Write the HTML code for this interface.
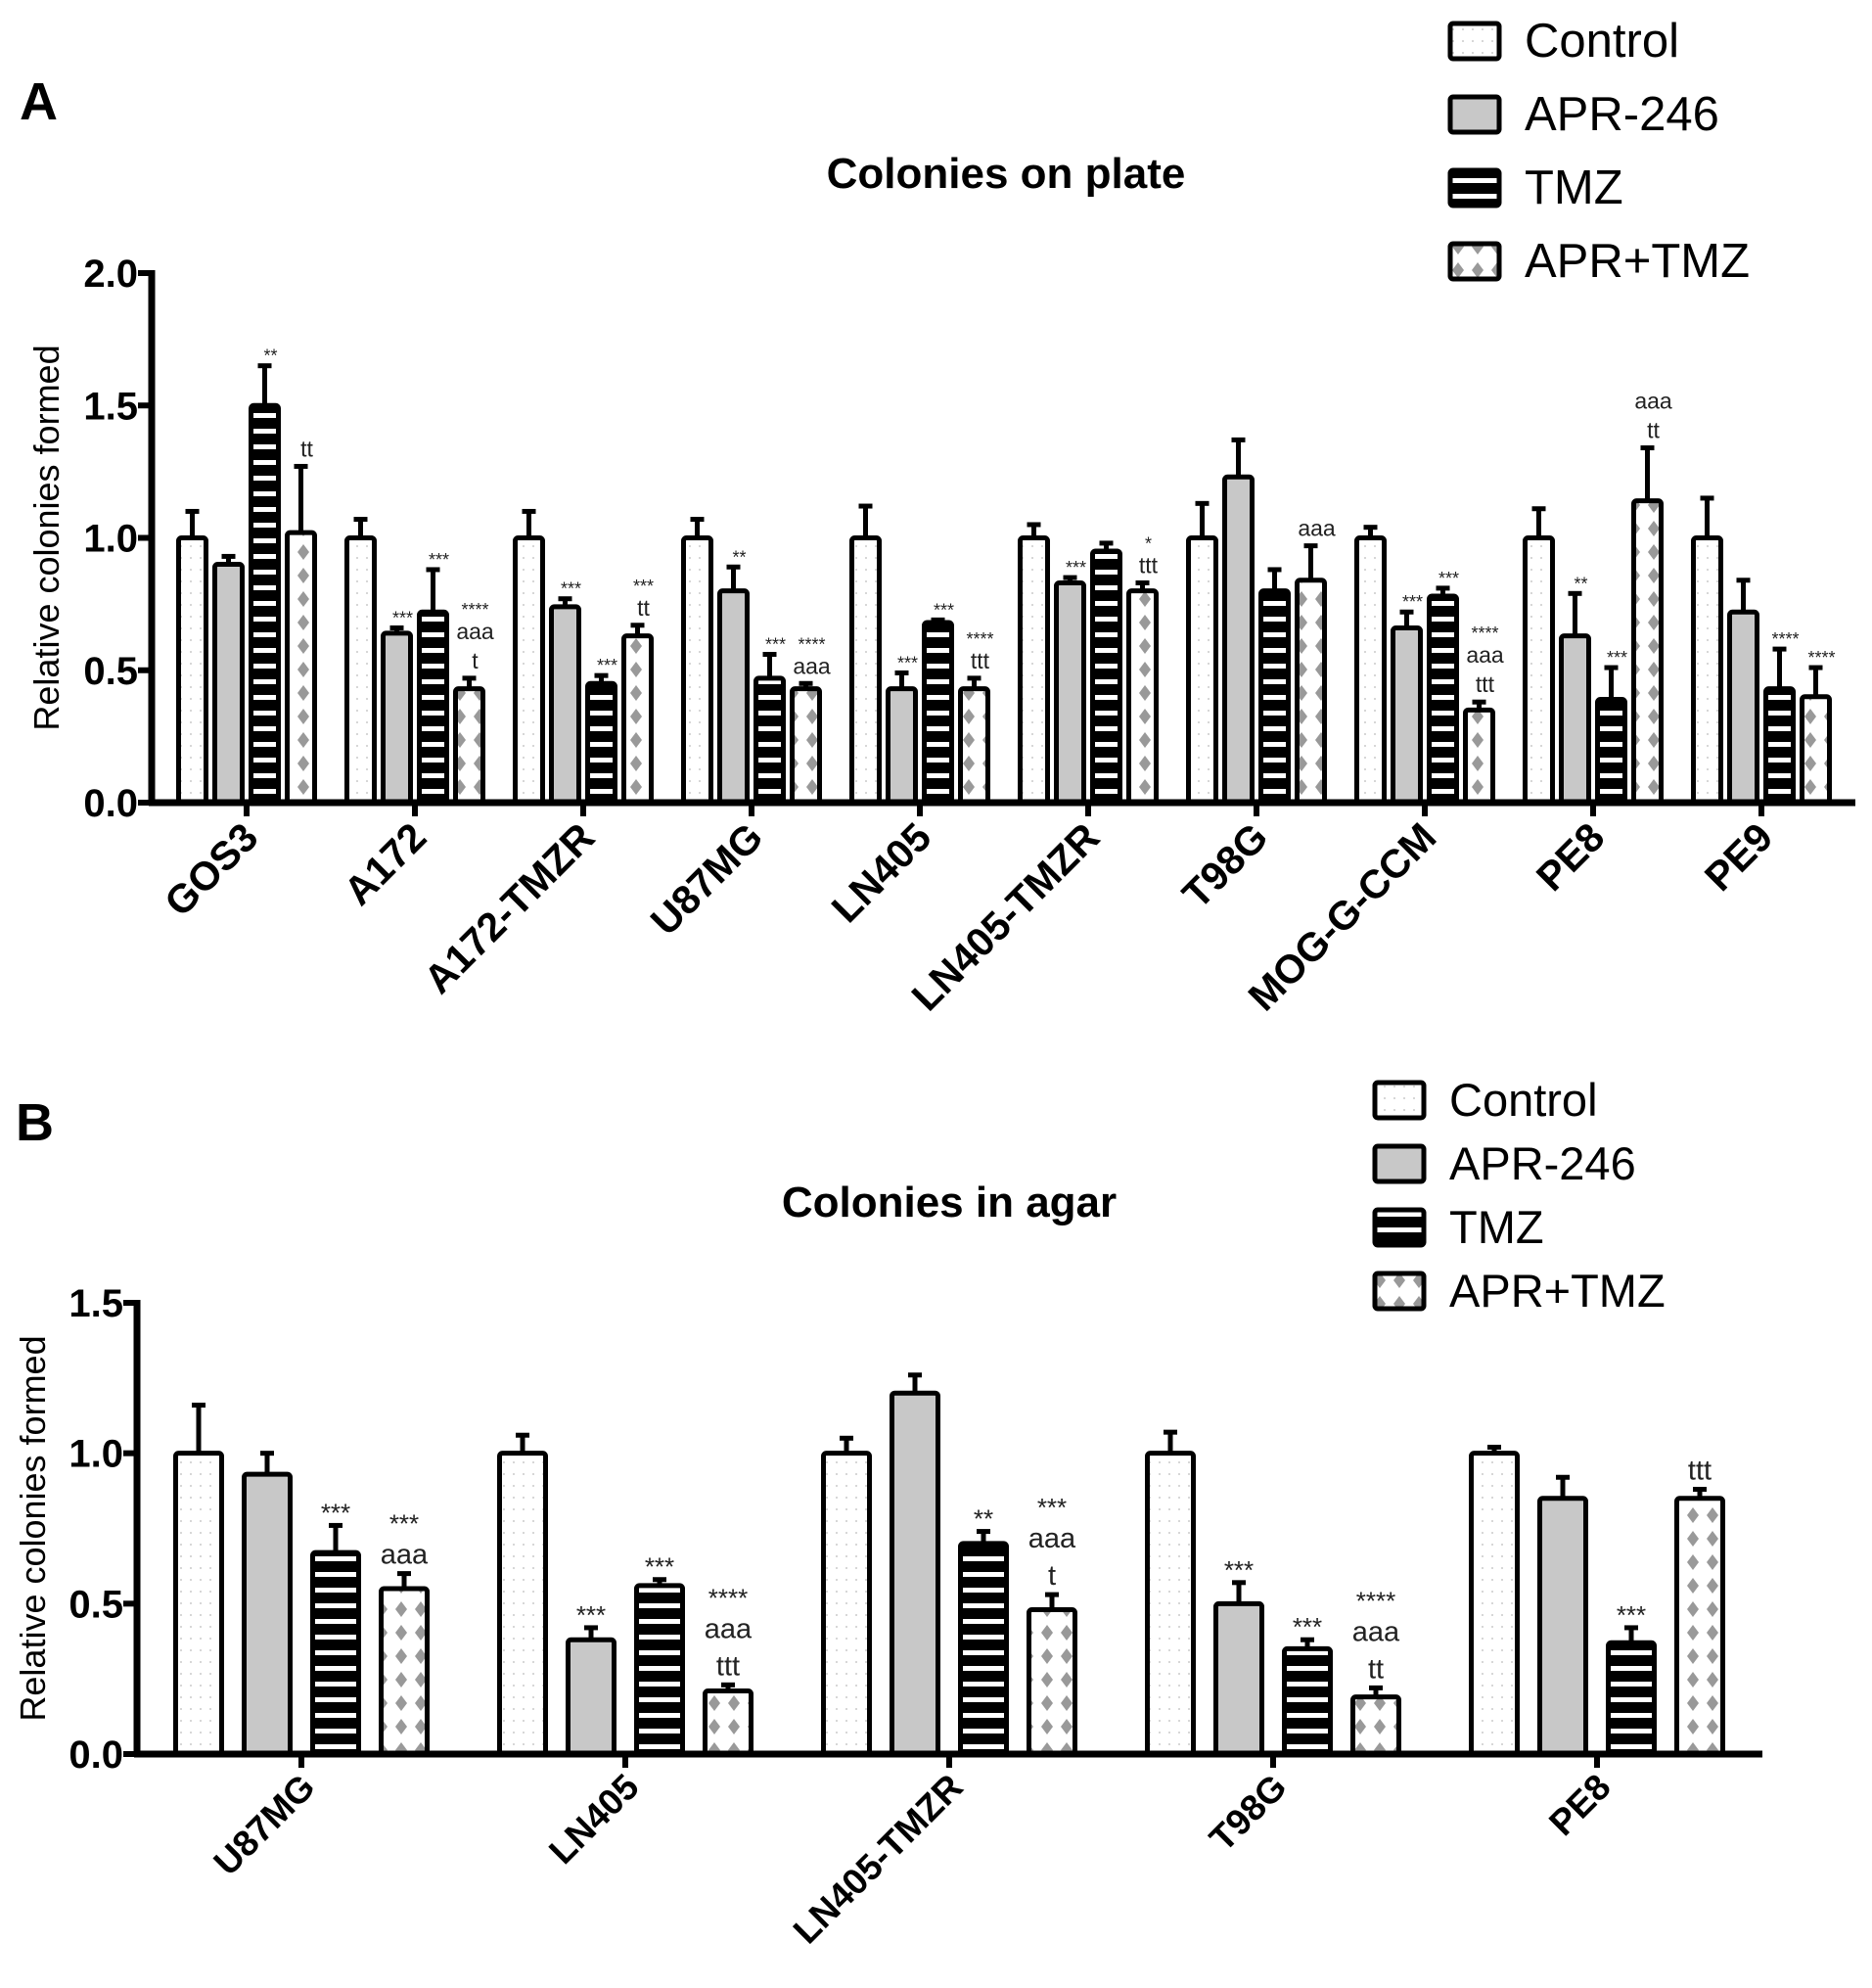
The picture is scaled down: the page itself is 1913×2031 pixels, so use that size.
<!DOCTYPE html>
<html><head><meta charset="utf-8"><style>
html,body{margin:0;padding:0;background:#fff;}
svg{display:block;font-family:"Liberation Sans",Arial,sans-serif;}
</style></head><body>
<svg id="fig" width="1913" height="2031" viewBox="0 0 1913 2031" xmlns="http://www.w3.org/2000/svg">
<defs>
<pattern id="pCtrl" width="10" height="12" patternUnits="userSpaceOnUse"><rect width="10" height="12" fill="#fff"/><circle cx="5" cy="6" r="0.9" fill="#bbb"/></pattern>
<pattern id="pTmz" width="10" height="16" patternUnits="userSpaceOnUse"><rect width="10" height="16" fill="#000"/><rect x="0" y="6" width="10" height="5" fill="#fff"/></pattern>
<pattern id="pCombo" width="20" height="24" patternUnits="userSpaceOnUse"><rect width="20" height="24" fill="#fff"/><polygon points="10,4 16,12 10,20 4,12" fill="#999"/></pattern>
</defs>
<g id="panelA"></g>
<g id="panelB"></g>
</svg>
<script>
const seriesNames = ["Control","APR-246","TMZ","APR+TMZ"];
const fills = ["url(#pCtrl)","#c8c8c8","url(#pTmz)","url(#pCombo)"];

const catsA = ["GOS3","A172","A172-TMZR","U87MG","LN405","LN405-TMZR","T98G","MOG-G-CCM","PE8","PE9"];
const ctrlA = [1,1,1,1,1,1,1,1,1,1];
const ctrlErrA = [0.1,0.07,0.1,0.07,0.12,0.05,0.13,0.04,0.11,0.15];
const aprA = [0.9,0.64,0.74,0.8,0.43,0.83,1.23,0.66,0.63,0.72];
const aprErrA = [0.03,0.02,0.03,0.09,0.06,0.02,0.14,0.06,0.16,0.12];
const tmzA = [1.5,0.72,0.45,0.47,0.68,0.95,0.8,0.78,0.39,0.43];
const tmzErrA = [0.15,0.16,0.03,0.09,0.01,0.03,0.08,0.03,0.12,0.15];
const comboA = [1.02,0.43,0.63,0.43,0.43,0.8,0.84,0.35,1.14,0.4];
const comboErrA = [0.25,0.04,0.04,0.02,0.04,0.03,0.13,0.03,0.2,0.11];
const annA = [
 ["","","**","tt"],["","***","***","****|aaa|t"],["","***","***","***|tt"],["","**","***","****|aaa"],
 ["","***","***","****|ttt"],["","***","","*|ttt"],["","","","aaa"],["","***","***","****|aaa|ttt"],
 ["","**","***","aaa|tt"],["","","****","****"]];
const ticksA = [0,0.5,1,1.5,2];

const catsB = ["U87MG","LN405","LN405-TMZR","T98G","PE8"];
const ctrlB = [1,1,1,1,1];
const ctrlErrB = [0.16,0.06,0.05,0.07,0.02];
const aprB = [0.93,0.38,1.2,0.5,0.85];
const aprErrB = [0.07,0.04,0.06,0.07,0.07];
const tmzB = [0.67,0.56,0.7,0.35,0.37];
const tmzErrB = [0.09,0.02,0.04,0.03,0.05];
const comboB = [0.55,0.21,0.48,0.19,0.85];
const comboErrB = [0.05,0.02,0.05,0.03,0.03];
const annB = [["","","***","***|aaa"],["","***","***","****|aaa|ttt"],["","","**","***|aaa|t"],["","***","***","****|aaa|tt"],["","","***","ttt"]];
const ticksB = [0,0.5,1,1.5];

const NS="http://www.w3.org/2000/svg";
function mk(parent,tag,attrs,text){const e=document.createElementNS(NS,tag);for(const k in attrs)e.setAttribute(k,attrs[k]);if(text!==undefined)e.textContent=text;parent.appendChild(e);return e;}

function drawPanel(g,cfg){
 const yS=v=>cfg.y0-(v/cfg.ymax)*(cfg.y0-cfg.yTop);
 const xC=i=>cfg.c0+i*cfg.gap;
 const vals=[cfg.ctrl,cfg.apr,cfg.tmz,cfg.combo], errs=[cfg.ctrlE,cfg.aprE,cfg.tmzE,cfg.comboE];
 const letter=mk(g,'text',{x:cfg.letterX,y:cfg.letterY,'font-size':54,'font-weight':'bold'},cfg.letter);
 
 
 const t=mk(g,'text',{x:cfg.titleX,y:cfg.titleY,'font-size':44,'font-weight':'bold','text-anchor':'middle'},cfg.title);
 
 
 const yl=mk(g,'text',{x:0,y:0,'font-size':36,'text-anchor':'middle',transform:`translate(${cfg.ylX},${(cfg.y0+cfg.yTop)/2}) rotate(-90)`},'Relative colonies formed');
 
 
 cfg.cats.forEach((c,i)=>{
  for(let s=0;s<4;s++){
   const cx=xC(i)+(s-1.5)*cfg.pitch, v=vals[s][i], e=errs[s][i];
   const top=yS(v), et=yS(v+e);
   const ln=mk(g,'line',{x1:cx,x2:cx,y1:top,y2:et,stroke:'#000','stroke-width':5});
   
   
   const cap=mk(g,'line',{x1:cx-7,x2:cx+7,y1:et,y2:et,stroke:'#000','stroke-width':5});
   
   
   const r=mk(g,'rect',{x:cx-cfg.bw/2,y:top,width:cfg.bw,height:cfg.y0-top,fill:fills[s],stroke:'#000','stroke-width':5,rx:3});
   
   
   const a=cfg.ann[i][s];
   if(a){
    const lines=a.split('|');
    let y=et-10-(lines.length-1)*cfg.lh;
    lines.forEach(l=>{
     const star=l[0]==='*';
     const tx=mk(g,'text',{x:cx+cfg.annDx,y:star?y+6:y,'font-size':star?cfg.starFs:cfg.annFs,'text-anchor':'middle',fill:'#222'},l);
     
     
     y+=cfg.lh;
    });
   }
  }
  const tk=mk(g,'line',{x1:xC(i),x2:xC(i),y1:cfg.y0,y2:cfg.y0+14,stroke:'#000','stroke-width':6});
  
  
  const xl=mk(g,'text',{x:0,y:0,'font-size':cfg.xFs,'font-weight':'bold','text-anchor':'end',transform:`translate(${xC(i)+cfg.xlDx},${cfg.y0+cfg.xlDy}) rotate(-45)`},c);
  
  
 });
 const ya=mk(g,'line',{x1:cfg.ax,x2:cfg.ax,y1:cfg.yTop-3,y2:cfg.y0+3,stroke:'#000','stroke-width':7});
 
 
 const xa=mk(g,'line',{x1:cfg.ax-3,x2:cfg.xEnd,y1:cfg.y0,y2:cfg.y0,stroke:'#000','stroke-width':7});
 
 
 cfg.ticks.forEach(v=>{
  const y=yS(v);
  const tl=mk(g,'line',{x1:cfg.ax-14,x2:cfg.ax,y1:y,y2:y,stroke:'#000','stroke-width':6});
  
  
  const tt=mk(g,'text',{x:cfg.ax-14,y:y+14,'font-size':40,'font-weight':'bold','text-anchor':'end'},v.toFixed(1));
  
  
 });
 seriesNames.forEach((n,s)=>{
  const y=cfg.legY+s*cfg.legStep;
  const lb=mk(g,'rect',{x:cfg.legX,y:y-18,width:50,height:36,fill:fills[s],stroke:'#000','stroke-width':5,rx:3});
  
  
  const lt=mk(g,'text',{x:cfg.legX+76,y:y+16,'font-size':cfg.legFs},n);
  
  
 });
}

drawPanel(document.getElementById('panelA'),{
 cats:catsA,ctrl:ctrlA,apr:aprA,tmz:tmzA,combo:comboA,ctrlE:ctrlErrA,aprE:aprErrA,tmzE:tmzErrA,comboE:comboErrA,ann:annA,ticks:ticksA,
 ymax:2,y0:820,yTop:279,ax:155,xEnd:1896,c0:252,gap:172,pitch:37,bw:28,
 letter:'A',letterX:20,letterY:122,title:'Colonies on plate',titleX:1028,titleY:192,ylX:60,
 xFs:41,xlDx:14,xlDy:38,annDx:6,lh:30,starFs:18,annFs:23,
 legX:1482,legY:42,legStep:75,legFs:49
});
drawPanel(document.getElementById('panelB'),{
 cats:catsB,ctrl:ctrlB,apr:aprB,tmz:tmzB,combo:comboB,ctrlE:ctrlErrB,aprE:aprErrB,tmzE:tmzErrB,comboE:comboErrB,ann:annB,ticks:ticksB,
 ymax:1.5,y0:1792,yTop:1331,ax:140,xEnd:1801,c0:308,gap:331,pitch:70,bw:47,
 letter:'B',letterX:16,letterY:1165,title:'Colonies in agar',titleX:970,titleY:1243,ylX:46,
 xFs:37,xlDx:16,xlDy:36,annDx:0,lh:38,starFs:26,annFs:29,
 legX:1405,legY:1124,legStep:65,legFs:47
});
</script>
</body></html>
